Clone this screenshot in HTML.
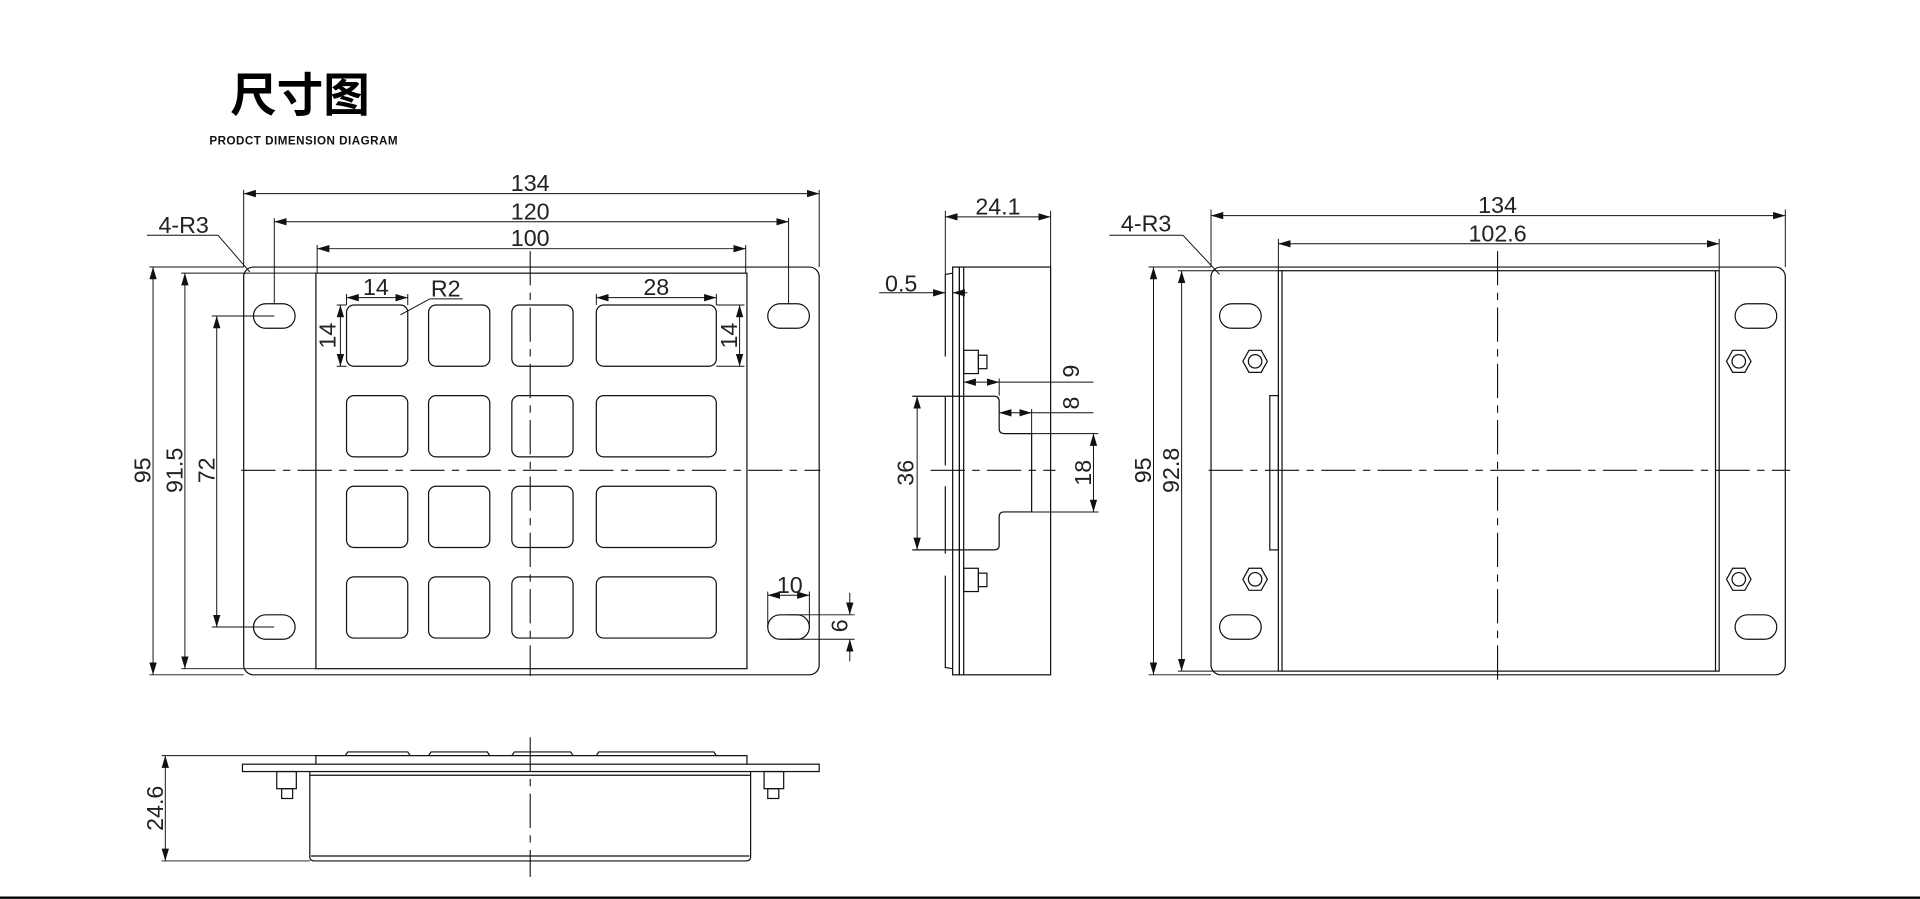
<!DOCTYPE html>
<html><head><meta charset="utf-8"><style>
html,body{margin:0;padding:0;background:#fff;}
svg{display:block}
.l{stroke:#111;stroke-width:1;fill:none}
.d{stroke:#111;stroke-width:0.8;fill:none}
.c{stroke:#111;stroke-width:0.9;fill:none;stroke-dasharray:28 6 6 6}
text.t{font-family:"Liberation Sans",sans-serif;font-size:19px;fill:#222;text-anchor:middle}
</style></head><body>
<svg width="1920" height="899" viewBox="0 0 1568 734" xmlns="http://www.w3.org/2000/svg">
<defs>
<marker id="a" viewBox="0 0 10 6" refX="10" refY="3" markerWidth="10" markerHeight="6" markerUnits="userSpaceOnUse" orient="auto-start-reverse"><path d="M0,0L10,3L0,6z" fill="#111"/></marker>
</defs>
<text x="188" y="91" style="font-family:'Noto Sans CJK SC',sans-serif;font-weight:700;font-size:38px;fill:#000">尺寸图</text>
<text x="171" y="118" style="font-family:'Liberation Sans',sans-serif;font-weight:700;font-size:9.5px;fill:#111;letter-spacing:0.4px">PRODCT  DIMENSION  DIAGRAM</text>

<!-- FRONT VIEW -->
<rect class="l" x="199" y="218" width="470" height="333" rx="8"/>
<rect class="l" x="258" y="223" width="352" height="323"/>
<g class="l">
<rect x="207" y="248" width="34" height="20" rx="10"/><rect x="627" y="248" width="34" height="20" rx="10"/>
<rect x="207" y="502" width="34" height="20" rx="10"/><rect x="627" y="502" width="34" height="20" rx="10"/>
</g>
<g class="l">
<rect x="283" y="249" width="50" height="50" rx="6"/><rect x="350" y="249" width="50" height="50" rx="6"/><rect x="418" y="249" width="50" height="50" rx="6"/><rect x="487" y="249" width="98" height="50" rx="6"/>
<rect x="283" y="323" width="50" height="50" rx="6"/><rect x="350" y="323" width="50" height="50" rx="6"/><rect x="418" y="323" width="50" height="50" rx="6"/><rect x="487" y="323" width="98" height="50" rx="6"/>
<rect x="283" y="397" width="50" height="50" rx="6"/><rect x="350" y="397" width="50" height="50" rx="6"/><rect x="418" y="397" width="50" height="50" rx="6"/><rect x="487" y="397" width="98" height="50" rx="6"/>
<rect x="283" y="471" width="50" height="50" rx="6"/><rect x="350" y="471" width="50" height="50" rx="6"/><rect x="418" y="471" width="50" height="50" rx="6"/><rect x="487" y="471" width="98" height="50" rx="6"/>
</g>
<line class="c" x1="433" y1="205" x2="433" y2="552"/>
<line class="c" x1="197" y1="384" x2="670" y2="384"/>
<!-- dims front -->
<g class="d">
<line x1="199" y1="155" x2="199" y2="218"/><line x1="669" y1="155" x2="669" y2="218"/>
<line x1="224" y1="178" x2="224" y2="248"/><line x1="644" y1="178" x2="644" y2="248"/>
<line x1="259" y1="200" x2="259" y2="223"/><line x1="609" y1="200" x2="609" y2="223"/>
<line x1="199" y1="158" x2="669" y2="158" marker-start="url(#a)" marker-end="url(#a)"/>
<line x1="224" y1="181" x2="644" y2="181" marker-start="url(#a)" marker-end="url(#a)"/>
<line x1="259" y1="203" x2="609" y2="203" marker-start="url(#a)" marker-end="url(#a)"/>
<line x1="120" y1="192" x2="178" y2="192"/><line x1="178" y1="192" x2="204" y2="222"/>
<line x1="283" y1="243" x2="333" y2="243" marker-start="url(#a)" marker-end="url(#a)"/>
<line x1="283" y1="240" x2="283" y2="249"/><line x1="333" y1="240" x2="333" y2="249"/>
<line x1="351" y1="244" x2="378" y2="244"/><line x1="351" y1="244" x2="327" y2="257"/>
<line x1="487" y1="243" x2="585" y2="243" marker-start="url(#a)" marker-end="url(#a)"/>
<line x1="487" y1="240" x2="487" y2="249"/><line x1="585" y1="240" x2="585" y2="249"/>
<line x1="278" y1="249" x2="278" y2="299" marker-start="url(#a)" marker-end="url(#a)"/>
<line x1="275" y1="249" x2="283" y2="249"/><line x1="275" y1="299" x2="283" y2="299"/>
<line x1="604" y1="249" x2="604" y2="299" marker-start="url(#a)" marker-end="url(#a)"/>
<line x1="585" y1="249" x2="608" y2="249"/><line x1="585" y1="299" x2="608" y2="299"/>
<line x1="122" y1="218" x2="199" y2="218"/><line x1="122" y1="551" x2="199" y2="551"/>
<line x1="148" y1="223" x2="258" y2="223"/><line x1="148" y1="546" x2="258" y2="546"/>
<line x1="173" y1="258" x2="224" y2="258"/><line x1="173" y1="512" x2="224" y2="512"/>
<line x1="125" y1="218" x2="125" y2="551" marker-start="url(#a)" marker-end="url(#a)"/>
<line x1="151" y1="223" x2="151" y2="546" marker-start="url(#a)" marker-end="url(#a)"/>
<line x1="177" y1="258" x2="177" y2="512" marker-start="url(#a)" marker-end="url(#a)"/>
<line x1="627" y1="483" x2="627" y2="512"/><line x1="661" y1="483" x2="661" y2="512"/>
<line x1="627" y1="486" x2="661" y2="486" marker-start="url(#a)" marker-end="url(#a)"/>
<line x1="644" y1="502" x2="698" y2="502"/><line x1="644" y1="522" x2="698" y2="522"/>
<line x1="694" y1="484" x2="694" y2="502" marker-end="url(#a)"/><line x1="694" y1="540" x2="694" y2="522" marker-end="url(#a)"/>
</g>
<text class="t" x="433" y="156">134</text>
<text class="t" x="433" y="179">120</text>
<text class="t" x="433" y="201">100</text>
<text class="t" x="150" y="190">4-R3</text>
<text class="t" x="307" y="241">14</text>
<text class="t" x="364" y="242">R2</text>
<text class="t" x="536" y="241">28</text>
<text class="t" x="645" y="484">10</text>
<text class="t" transform="translate(274,274) rotate(-90)">14</text>
<text class="t" transform="translate(602,274) rotate(-90)">14</text>
<text class="t" transform="translate(123,384) rotate(-90)">95</text>
<text class="t" transform="translate(149,384) rotate(-90)">91.5</text>
<text class="t" transform="translate(175,384) rotate(-90)">72</text>
<text class="t" transform="translate(692,511) rotate(-90)">6</text>

<!-- SIDE VIEW -->
<g class="l">
<rect x="778" y="218" width="5.5" height="333"/>
<rect x="783.5" y="218" width="74.5" height="333"/>
<line x1="787" y1="218" x2="787" y2="551"/>
<path d="M778,223 L772,224 L772,291 M772,324 L772,380 M772,397 L772,452 M772,470 L772,545 L778,546"/>
<rect x="787" y="286" width="12" height="19"/><rect x="799" y="290" width="7" height="11"/>
<rect x="787" y="464" width="12" height="19"/><rect x="799" y="468" width="7" height="11"/>
<path d="M745,323.5 L812,323.5 Q816,323.5 816,328 L816,350 Q816,354 820,354 L842.5,354 L842.5,418 L820,418 Q816,418 816,422 L816,445 Q816,449 812,449 L745,449"/>
</g>
<line class="c" x1="760" y1="384" x2="862" y2="384"/>
<g class="d">
<line x1="772" y1="172" x2="772" y2="224"/><line x1="858" y1="172" x2="858" y2="218"/>
<line x1="772" y1="177" x2="858" y2="177" marker-start="url(#a)" marker-end="url(#a)"/>
<line x1="718" y1="239" x2="772" y2="239" marker-end="url(#a)"/><line x1="790" y1="239" x2="778" y2="239" marker-end="url(#a)"/>
<line x1="787" y1="312" x2="816" y2="312" marker-start="url(#a)" marker-end="url(#a)"/><line x1="816" y1="312" x2="893" y2="312"/><line x1="816" y1="309" x2="816" y2="323"/>
<line x1="816" y1="337" x2="842.5" y2="337" marker-start="url(#a)" marker-end="url(#a)"/><line x1="842.5" y1="337" x2="893" y2="337"/><line x1="842.5" y1="334" x2="842.5" y2="354"/>
<line x1="842" y1="354" x2="897" y2="354"/><line x1="842" y1="418" x2="897" y2="418"/>
<line x1="893" y1="354" x2="893" y2="418" marker-start="url(#a)" marker-end="url(#a)"/>
<line x1="749" y1="323.5" x2="749" y2="449" marker-start="url(#a)" marker-end="url(#a)"/>
</g>
<text class="t" x="815" y="175">24.1</text>
<text class="t" x="736" y="238">0.5</text>
<text class="t" transform="translate(881,303) rotate(-90)">9</text>
<text class="t" transform="translate(881,329) rotate(-90)">8</text>
<text class="t" transform="translate(891,386) rotate(-90)">18</text>
<text class="t" transform="translate(746,386) rotate(-90)">36</text>

<!-- BACK VIEW -->
<rect class="l" x="989" y="218" width="469" height="333" rx="8"/>
<rect class="l" x="1044" y="221" width="360" height="327"/>
<line class="l" x1="1047" y1="221" x2="1047" y2="548"/><line class="l" x1="1401" y1="221" x2="1401" y2="548"/>
<rect class="l" x="1037" y="323" width="7" height="126"/>
<g class="l">
<rect x="996" y="248" width="34" height="20" rx="10"/><rect x="1417" y="248" width="34" height="20" rx="10"/>
<rect x="996" y="502" width="34" height="20" rx="10"/><rect x="1417" y="502" width="34" height="20" rx="10"/>
<polygon points="1015,295 1020,286 1030,286 1035,295 1030,304 1020,304"/><circle cx="1025" cy="295" r="5.5"/>
<polygon points="1410,295 1415,286 1425,286 1430,295 1425,304 1415,304"/><circle cx="1420" cy="295" r="5.5"/>
<polygon points="1015,473 1020,464 1030,464 1035,473 1030,482 1020,482"/><circle cx="1025" cy="473" r="5.5"/>
<polygon points="1410,473 1415,464 1425,464 1430,473 1425,482 1415,482"/><circle cx="1420" cy="473" r="5.5"/>
</g>
<line class="c" x1="1223" y1="205" x2="1223" y2="555"/>
<line class="c" x1="987" y1="384" x2="1462" y2="384"/>
<g class="d">
<line x1="989" y1="171" x2="989" y2="218"/><line x1="1458" y1="171" x2="1458" y2="218"/>
<line x1="989" y1="176" x2="1458" y2="176" marker-start="url(#a)" marker-end="url(#a)"/>
<line x1="1044" y1="195" x2="1044" y2="221"/><line x1="1404" y1="195" x2="1404" y2="221"/>
<line x1="1044" y1="199" x2="1404" y2="199" marker-start="url(#a)" marker-end="url(#a)"/>
<line x1="906" y1="192" x2="966" y2="192"/><line x1="966" y1="192" x2="996" y2="224"/>
<line x1="938" y1="218" x2="989" y2="218"/><line x1="938" y1="551" x2="989" y2="551"/>
<line x1="962" y1="221" x2="1044" y2="221"/><line x1="962" y1="548" x2="1044" y2="548"/>
<line x1="942" y1="218" x2="942" y2="551" marker-start="url(#a)" marker-end="url(#a)"/>
<line x1="965" y1="221" x2="965" y2="548" marker-start="url(#a)" marker-end="url(#a)"/>
</g>
<text class="t" x="1223" y="174">134</text>
<text class="t" x="1223" y="197">102.6</text>
<text class="t" x="936" y="189">4-R3</text>
<text class="t" transform="translate(940,384) rotate(-90)">95</text>
<text class="t" transform="translate(963,384) rotate(-90)">92.8</text>

<!-- BOTTOM VIEW -->
<g class="l">
<rect x="198" y="624" width="471" height="6"/>
<path d="M258,624 L258,617 L610,617 L610,624"/>
<path d="M282,617 L284,614 L333,614 L335,617 M350,617 L352,614 L398,614 L400,617 M418,617 L420,614 L466,614 L468,617 M487,617 L489,614 L583,614 L585,617"/>
<path d="M253,630 L253,700 Q253,703 257,703 L609,703 Q613,703 613,700 L613,630"/>
<line x1="253" y1="633" x2="613" y2="633"/><line x1="254" y1="699" x2="612" y2="699"/>
<rect x="226" y="630" width="16" height="14"/><rect x="230" y="644" width="9" height="8"/>
<rect x="624" y="630" width="16" height="14"/><rect x="627" y="644" width="9" height="8"/>
</g>
<line class="c" x1="433" y1="602" x2="433" y2="716"/>
<g class="d">
<line x1="132" y1="617" x2="258" y2="617"/><line x1="132" y1="703" x2="253" y2="703"/>
<line x1="135" y1="617" x2="135" y2="703" marker-start="url(#a)" marker-end="url(#a)"/>
</g>
<text class="t" transform="translate(133,660) rotate(-90)">24.6</text>
<line x1="0" y1="733" x2="1568" y2="733" stroke="#000" stroke-width="2"/>
</svg>
</body></html>
